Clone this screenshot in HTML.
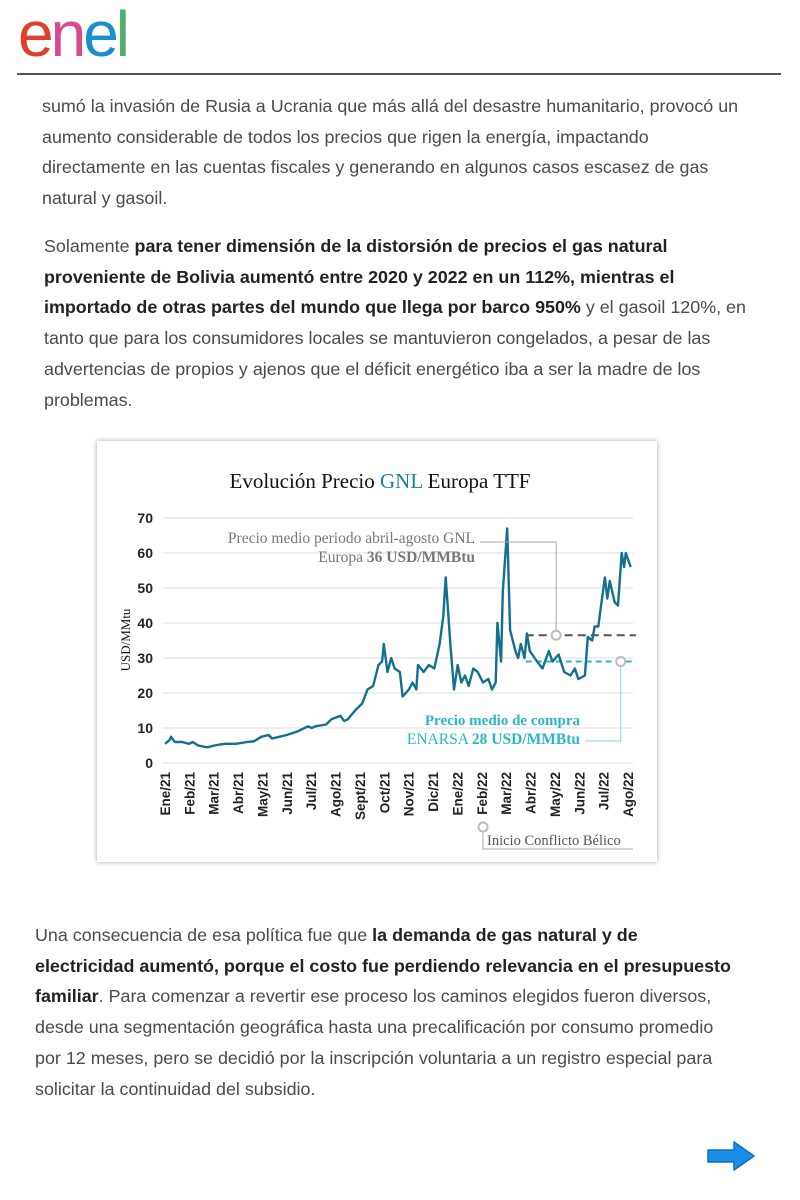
<!DOCTYPE html>
<html><head><meta charset="utf-8">
<style>
body{margin:0;width:800px;height:1200px;background:#fff;position:relative;overflow:hidden;font-family:"Liberation Sans",sans-serif}
.p{position:absolute;font-size:17.9px;color:#4a4a4a;line-height:30.7px;white-space:nowrap}
.p b{color:#222}
.logo{position:absolute;left:18px;top:-4px;font-size:64px;font-weight:normal;letter-spacing:-3px;line-height:76px}
</style></head><body>
<div class="logo"><span style="color:#e0402a">e</span><span style="color:#d94a8c">n</span><span style="color:#1a8fd0">e</span><span style="color:#4fae6a">l</span></div>
<div style="position:absolute;left:17px;top:73px;width:764px;height:2px;background:#555"></div>

<div class="p" style="left:42px;top:91px">sumó la invasión de Rusia a Ucrania que más allá del desastre humanitario, provocó un<br>aumento considerable de todos los precios que rigen la energía, impactando<br>directamente en las cuentas fiscales y generando en algunos casos escasez de gas<br>natural y gasoil.</div>

<div class="p" style="left:44px;top:231px">Solamente <b>para tener dimensión de la distorsión de precios el gas natural</b><br><b>proveniente de Bolivia aumentó entre 2020 y 2022 en un 112%, mientras el</b><br><b>importado de otras partes del mundo que llega por barco 950%</b> y el gasoil 120%, en<br>tanto que para los consumidores locales se mantuvieron congelados, a pesar de las<br>advertencias de propios y ajenos que el déficit energético iba a ser la madre de los<br>problemas.</div>

<div class="p" style="left:35px;top:920px">Una consecuencia de esa política fue que <b>la demanda de gas natural y de</b><br><b>electricidad aumentó, porque el costo fue perdiendo relevancia en el presupuesto</b><br><b>familiar</b>. Para comenzar a revertir ese proceso los caminos elegidos fueron diversos,<br>desde una segmentación geográfica hasta una precalificación por consumo promedio<br>por 12 meses, pero se decidió por la inscripción voluntaria a un registro especial para<br>solicitar la continuidad del subsidio.</div>

<svg style="position:absolute;left:704px;top:1138px" width="54" height="36" viewBox="0 0 54 36"><path d="M4 12 H30 V4 L50 18 L30 32 V24 H4 Z" fill="#1a8ee8" stroke="#0d6fc0" stroke-width="1.5" stroke-linejoin="round"/></svg>

<div style="position:absolute;left:97px;top:441px;width:560px;height:421px;background:#fff;box-shadow:0 0 5px rgba(0,0,0,0.35)"></div>
<svg id="chart" style="position:absolute;left:0;top:0" width="800" height="1200"></svg>

<script>
const monthLabels=["Ene/21","Feb/21","Mar/21","Abr/21","May/21","Jun/21","Jul/21","Ago/21","Sept/21","Oct/21","Nov/21","Dic/21","Ene/22","Feb/22","Mar/22","Abr/22","May/22","Jun/22","Jul/22","Ago/22"];
const yTicks=[0,10,20,30,40,50,60,70];
const dates=[0,.18,.25,.4,.7,.99,1.14,1.36,1.73,2.03,2.25,2.47,2.91,3.36,3.65,3.95,4.25,4.39,4.69,4.99,5.43,5.87,6.02,6.17,6.61,6.83,7.2,7.35,7.5,7.8,8.09,8.31,8.54,8.76,8.91,8.98,9.13,9.28,9.42,9.64,9.75,10.01,10.16,10.31,10.38,10.61,10.83,11.05,11.27,11.42,11.52,11.72,11.86,12.01,12.16,12.31,12.46,12.65,12.83,13.05,13.27,13.42,13.57,13.64,13.79,13.86,14.04,14.16,14.38,14.49,14.6,14.75,14.85,14.97,15.27,15.49,15.75,15.9,16.15,16.38,16.64,16.82,16.96,17.23,17.35,17.53,17.63,17.78,17.93,18.05,18.15,18.25,18.45,18.59,18.74,18.84,18.91,19.11];
const prices=[5.5,6.5,7.5,6,6,5.5,6,5,4.5,5,5.3,5.5,5.5,6,6.2,7.5,8,7,7.5,8,9,10.5,10,10.5,11,12.5,13.5,12,12.5,15,17,21,22,28,29,34,26,30,27,26,19,21,23,21,28,26,28,27,34,42,53,33,21,28,23,25,22,27,26,23,24,21,23,40,29,49,67,38,32,30,34,30,37,32,29,27,32,29,31,26,25,27,24,25,36,35,39,39,47,53,47,52,46,45,60,56,60,56];
const avgEurope=36.5, avgEnarsa=29, avgStart=14.8, avgEnd=19.2;

const NS="http://www.w3.org/2000/svg", svg=document.getElementById('chart');
const X=m=>165+m*24.37, Y=v=>763-v*3.5;
function mk(tag,attrs,parent){const e=document.createElementNS(NS,tag);for(const k in attrs)e.setAttribute(k,attrs[k]);(parent||svg).appendChild(e);return e;}

let t=mk('text',{x:380,y:488,'text-anchor':'middle','font-family':'Liberation Serif, serif','font-size':21,fill:'#111'});

t.innerHTML='Evolución Precio <tspan fill="#1f7f9a">GNL</tspan> Europa TTF';

yTicks.forEach(v=>{
  const g=mk('line',{x1:163,x2:633,y1:Y(v),y2:Y(v),stroke:'#dcdcdc','stroke-width':1});
  
  const l=mk('text',{x:153,y:Y(v)+5,'text-anchor':'end','font-size':14,'font-weight':'bold',fill:'#222'});
  
  l.textContent=v;
});
monthLabels.forEach((m,i)=>{
  const l=mk('text',{transform:`translate(${X(i)+5},772) rotate(-90)`,'text-anchor':'end','font-size':13.5,'font-weight':'bold',fill:'#222'});
  
  l.textContent=m;
});
let yt=mk('text',{transform:'translate(130,640) rotate(-90)','text-anchor':'middle','font-family':'Liberation Serif, serif','font-size':13,fill:'#111'});

yt.textContent='USD/MMtu';

let d1=mk('line',{x1:X(avgStart),x2:X(avgEnd)+3,y1:Y(avgEurope),y2:Y(avgEurope),stroke:'#555','stroke-width':2,'stroke-dasharray':'8,5'});

let d2=mk('line',{x1:X(avgStart),x2:X(avgEnd)+3,y1:Y(avgEnarsa),y2:Y(avgEnarsa),stroke:'#2bb5c8','stroke-width':2,'stroke-dasharray':'6,4'});


let pts=dates.map((d,i)=>X(d).toFixed(1)+','+Y(prices[i]).toFixed(1)).join(' ');
let s=mk('polyline',{points:pts,fill:'none',stroke:'#13708f','stroke-width':2.4,'stroke-linejoin':'round'});


const cx1=X(16.05), cx2=X(18.7), cx3=X(13.05);
let c1=mk('polyline',{points:`${cx1},${Y(avgEurope)} ${cx1},542 480,542`,fill:'none',stroke:'#aaa','stroke-width':1});

let c2=mk('polyline',{points:`${cx2},${Y(avgEnarsa)} ${cx2},741 585,741`,fill:'none',stroke:'#7fd6e0','stroke-width':1});

let c3=mk('polyline',{points:`${cx3},827 ${cx3},849 633,849`,fill:'none',stroke:'#aaa','stroke-width':1});

[[cx1,Y(avgEurope)],[cx2,Y(avgEnarsa)],[cx3,827]].forEach(p=>{
  const c=mk('circle',{cx:p[0],cy:p[1],r:4.5,fill:'#fff',stroke:'#bbb','stroke-width':2});
  
});

function txt(x,y,anchor,fill,html,name,fs){const e=mk('text',{x:x,y:y,'text-anchor':anchor,'font-family':'Liberation Serif, serif','font-size':fs,fill:fill});e.innerHTML=html;}
txt(475,543,'end','#777','Precio medio periodo  abril-agosto GNL','europe-annotation-1',15.5);
txt(475,562,'end','#777','Europa <tspan font-weight="bold">36 USD/MMBtu</tspan>','europe-annotation-2',15.5);
txt(580,725,'end','#2bb5c8','<tspan font-weight="bold">Precio medio de compra</tspan>','enarsa-annotation-1',15);
txt(580,744,'end','#2bb5c8','ENARSA <tspan font-weight="bold">28 USD/MMBtu</tspan>','enarsa-annotation-2',15.5);
txt(487,845,'start','#555','Inicio Conflicto Bélico','conflict-annotation',14.5);
</script>
</body></html>
